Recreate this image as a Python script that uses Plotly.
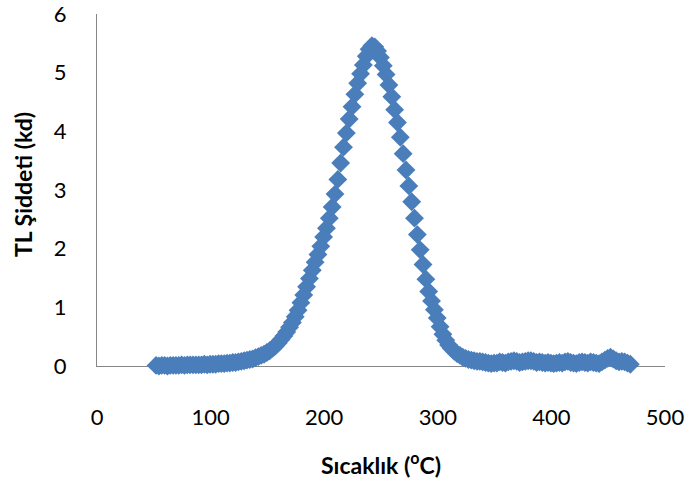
import plotly.graph_objects as go

# Glow curve: temperature (°C) and TL intensity (kd)
temperature = [
    52.0, 54.5, 57.0, 59.5, 62.0, 64.5, 67.0, 69.5, 72.0, 74.5,
    77.0, 79.5, 82.0, 84.5, 87.0, 89.5, 92.0, 94.5, 97.0, 99.5,
    102.0, 104.5, 107.0, 109.5, 112.0, 114.5, 117.0, 119.5, 122.0, 124.5,
    127.0, 129.5, 132.0, 134.5, 137.0, 139.5, 142.0, 144.5, 147.0, 149.5,
    152.0, 154.5, 157.0, 159.5, 162.0, 164.5, 167.0, 169.5, 172.0, 174.5,
    177.0, 179.5, 182.0, 184.5, 187.0, 189.5, 192.0, 194.5, 197.0, 199.5,
    202.0, 204.5, 207.0, 209.5, 212.0, 214.5, 217.0, 219.5, 222.0, 224.5,
    227.0, 229.5, 232.0, 234.5, 237.0, 239.5, 242.0, 244.5, 247.0, 249.5,
    252.0, 254.5, 257.0, 259.5, 262.0, 264.5, 267.0, 269.5, 272.0, 274.5,
    277.0, 279.5, 282.0, 284.5, 287.0, 289.5, 292.0, 294.5, 297.0, 299.5,
    302.0, 304.5, 307.0, 309.5, 312.0, 314.5, 317.0, 319.5, 322.0, 324.5,
    327.0, 329.5, 332.0, 334.5, 337.0, 339.5, 342.0, 344.5, 347.0, 349.5,
    352.0, 354.5, 357.0, 359.5, 362.0, 364.5, 367.0, 369.5, 372.0, 374.5,
    377.0, 379.5, 382.0, 384.5, 387.0, 389.5, 392.0, 394.5, 397.0, 399.5,
    402.0, 404.5, 407.0, 409.5, 412.0, 414.5, 417.0, 419.5, 422.0, 424.5,
    427.0, 429.5, 432.0, 434.5, 437.0, 439.5, 442.0, 444.5, 447.0, 449.5,
    452.0, 454.5, 457.0, 459.5, 462.0, 464.5, 467.0, 469.5,
]

tl_intensity = [
    0.01, 0.00, 0.01, 0.01, 0.00, 0.01, 0.01, 0.01, 0.01, 0.02,
    0.01, 0.02, 0.02, 0.02, 0.02, 0.02, 0.02, 0.03, 0.02, 0.03,
    0.03, 0.03, 0.04, 0.04, 0.04, 0.05, 0.05, 0.06, 0.06, 0.07,
    0.08, 0.09, 0.10, 0.11, 0.12, 0.14, 0.16, 0.18, 0.20, 0.23,
    0.26, 0.30, 0.34, 0.39, 0.45, 0.51, 0.58, 0.66, 0.74, 0.84,
    0.95, 1.08, 1.21, 1.35, 1.49, 1.63, 1.77, 1.90, 2.04, 2.20,
    2.35, 2.52, 2.71, 2.93, 3.18, 3.46, 3.73, 3.97, 4.21, 4.42,
    4.63, 4.82, 4.98, 5.13, 5.28, 5.40, 5.46, 5.44, 5.37, 5.26,
    5.12, 4.97, 4.79, 4.59, 4.37, 4.15, 3.90, 3.62, 3.34, 3.07,
    2.80, 2.52, 2.24, 1.98, 1.73, 1.48, 1.27, 1.11, 0.96, 0.82,
    0.67, 0.54, 0.44, 0.36, 0.30, 0.25, 0.21, 0.18, 0.15, 0.13,
    0.11, 0.10, 0.09, 0.08, 0.08, 0.07, 0.06, 0.05, 0.04, 0.05,
    0.05, 0.07, 0.06, 0.05, 0.07, 0.08, 0.09, 0.08, 0.06, 0.07,
    0.08, 0.09, 0.09, 0.08, 0.06, 0.07, 0.06, 0.05, 0.06, 0.05,
    0.04, 0.05, 0.06, 0.05, 0.07, 0.08, 0.06, 0.05, 0.04, 0.06,
    0.07, 0.06, 0.05, 0.07, 0.06, 0.05, 0.04, 0.07, 0.10, 0.13,
    0.15, 0.12, 0.09, 0.07, 0.08, 0.07, 0.05, 0.03,
]

x_ticks = [0, 100, 200, 300, 400, 500]
y_ticks = [0, 1, 2, 3, 4, 5, 6]

MARKER_BLUE = "#4A7EBB"
AXIS_GRAY = "#868686"
FONT = "Lato, 'Open Sans', sans-serif"

fig = go.Figure(
    go.Scatter(
        x=temperature,
        y=tl_intensity,
        mode="markers",
        marker=dict(symbol="diamond", size=14.5, color=MARKER_BLUE, line=dict(width=0)),
        cliponaxis=False,
        showlegend=False,
    )
)

axis_common = dict(
    showgrid=False,
    zeroline=False,
    showline=True,
    linecolor=AXIS_GRAY,
    linewidth=1.3,
    ticks="",
    layer="below traces",
    automargin=False,
    ticklabeloverflow="allow",
    fixedrange=True,
    tickfont=dict(family=FONT, size=22),
)

fig.update_layout(
    width=689,
    height=481,
    margin=dict(l=97, r=24, t=14, b=115),
    paper_bgcolor="white",
    plot_bgcolor="white",
    font=dict(family=FONT, size=22, color="#000000"),
    xaxis=dict(
        range=[0, 500],
        tickvals=x_ticks,
        ticktext=[str(v) for v in x_ticks],
        ticklabelstandoff=31,
        **axis_common,
    ),
    yaxis=dict(
        range=[0, 6],
        tickvals=y_ticks,
        ticktext=[str(v) for v in y_ticks],
        ticklabelstandoff=25,
        **axis_common,
    ),
    annotations=[
        dict(
            text="<b>Sıcaklık (<sup>o</sup>C)</b>",
            xref="paper", yref="paper",
            x=0.5, y=0,
            xanchor="center", yanchor="middle",
            yshift=-97,
            showarrow=False,
            font=dict(family=FONT, size=23),
        ),
        dict(
            text="<b>TL Şiddeti (kd)</b>",
            xref="paper", yref="paper",
            x=0, y=0.514,
            xanchor="center", yanchor="middle",
            xshift=-74,
            textangle=-90,
            showarrow=False,
            font=dict(family=FONT, size=23),
        ),
    ],
)

fig.write_html("out.html")
